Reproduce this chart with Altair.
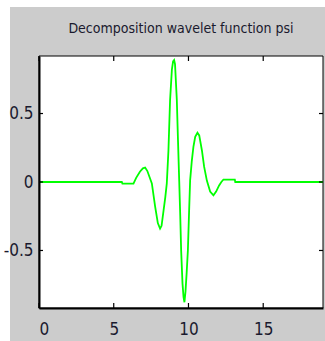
import altair as alt
import pandas as pd

# wavelet psi samples
xs = [0, 5.54, 5.58, 6.32, 6.5, 6.75, 6.95, 7.1, 7.25, 7.4, 7.55, 7.77, 7.95, 8.1, 8.2, 8.33, 8.45, 8.55,
      8.66, 8.77, 8.89, 8.97, 9.04, 9.1, 9.22, 9.3, 9.38, 9.45, 9.51, 9.6, 9.67, 9.73, 9.8, 9.88, 9.96,
      10.04, 10.11, 10.22, 10.33, 10.45, 10.6, 10.72, 10.9, 11.05, 11.23, 11.45, 11.67, 11.85, 12.05,
      12.2, 12.34, 13.1, 13.13, 19]
ys = [0, 0, -0.012, -0.012, 0.03, 0.075, 0.10, 0.105, 0.08, 0.035, -0.01, -0.18, -0.30, -0.34, -0.32,
      -0.21, -0.11, -0.01, 0.23, 0.6, 0.82, 0.88, 0.89, 0.86, 0.6, 0.3, 0.01, -0.25, -0.5, -0.74, -0.84,
      -0.878, -0.8, -0.66, -0.5, -0.22, 0.01, 0.15, 0.256, 0.33, 0.36, 0.34, 0.23, 0.11, 0.01, -0.07,
      -0.097, -0.07, -0.025, 0.0, 0.018, 0.018, 0, 0]
x_ticks = [0, 5, 10, 15]
y_ticks = [-0.5, 0, 0.5]
title = ["Decomposition wavelet function psi"]

W, H = 284, 252
FONT = "Liberation Sans Narrow, DejaVu Sans Condensed, Arial, sans-serif"
TXT = "#1a1a2e"

df = pd.DataFrame({"x": xs, "y": ys})
xt = pd.DataFrame({"t": x_ticks})
yt = pd.DataFrame({"t": y_ticks})
one = pd.DataFrame({"k": [0]})
tdf = pd.DataFrame({"title": title})

xscale = alt.Scale(domain=[0, 19], nice=False, zero=False)
yscale = alt.Scale(domain=[-0.92, 0.92], nice=False, zero=False)

xaxis = alt.Axis(values=x_ticks, tickSize=0, domainColor="black", domainWidth=2,
                 labelFontSize=17, labelFont=FONT, labelColor=TXT, labelPadding=13,
                 grid=False, title=None, zindex=1)
yaxis = alt.Axis(values=y_ticks, tickSize=0, domainColor="black", domainWidth=2,
                 labelFontSize=17, labelFont=FONT, labelColor=TXT, labelPadding=6,
                 labelExpr="toString(datum.value)", grid=False, title=None, zindex=1)

bg = alt.Chart(one).mark_rect(color="#cccccc").encode(
    x=alt.value(-29), x2=alt.value(W + 2), y=alt.value(-49), y2=alt.value(H + 33))
plotbg = alt.Chart(one).mark_rect(fill="white", stroke="black", strokeWidth=1).encode(
    x=alt.value(0), x2=alt.value(W), y=alt.value(0), y2=alt.value(H))

ttl = alt.Chart(tdf).mark_text(fontSize=14, font=FONT, color=TXT, align="center",
                               baseline="alphabetic").encode(
    text="title:N", x=alt.value(W / 2), y=alt.value(-23))

line = alt.Chart(df).mark_line(color="#00ff00", strokeWidth=1.8).encode(
    x=alt.X("x:Q", scale=xscale, axis=xaxis),
    y=alt.Y("y:Q", scale=yscale, axis=yaxis),
)

tb = alt.Chart(xt).mark_rule(color="black", strokeWidth=1.2).encode(
    x=alt.X("t:Q", scale=xscale), y=alt.value(H), y2=alt.value(H - 5))
tt = alt.Chart(xt).mark_rule(color="black", strokeWidth=1.2).encode(
    x=alt.X("t:Q", scale=xscale), y=alt.value(0), y2=alt.value(5))
tl = alt.Chart(yt).mark_rule(color="black", strokeWidth=1.2).encode(
    y=alt.Y("t:Q", scale=yscale), x=alt.value(0), x2=alt.value(4))
tr = alt.Chart(yt).mark_rule(color="black", strokeWidth=1.2).encode(
    y=alt.Y("t:Q", scale=yscale), x=alt.value(W - 4), x2=alt.value(W))

chart = alt.layer(bg, plotbg, ttl, line, tb, tt, tl, tr).properties(
    width=W, height=H,
    autosize=alt.AutoSizeParams(type="none"),
    padding={"left": 39, "top": 56, "right": 2, "bottom": 33},
    background="white",
).configure_view(stroke=None)

chart.save("out.html", embed_options={"renderer": "svg", "actions": False})
